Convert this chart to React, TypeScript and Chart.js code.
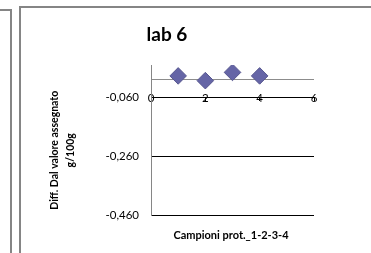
import React, { useEffect, useRef } from "react";
import { Chart, registerables } from "chart.js";

Chart.register(...registerables);

const chartTitle = "lab 6";
const xAxisTitle = "Campioni prot._1-2-3-4";
const yAxisTitle = ["Diff. Dal valore assegnato", "g/100g"];
const samples = [1, 2, 3, 4];
const diffValues = [0.013, -0.003, 0.025, 0.013];
const xTickValues = [0, 2, 4, 6];
const yTickValues = [-0.46, -0.26, -0.06];
const zeroLineValue = 0;
const xRange = [0, 6];
const yRange = [-0.46, 0.05];

const FONT = "Lato";

const axisTitlePlugin = {
  id: "axisTitles",
  afterDraw(chart: any) {
    const { ctx, chartArea } = chart;
    ctx.save();
    ctx.fillStyle = "#000";
    ctx.textAlign = "center";
    ctx.textBaseline = "middle";
    // x axis title
    ctx.font = `bold 11px ${FONT}`;
    ctx.fillText(xAxisTitle, (chartArea.left + chartArea.right) / 2 - 1.5, chartArea.bottom + 20);
    // y axis title (rotated, two lines)
    ctx.font = `bold 10.5px ${FONT}`;
    ctx.translate(34.5, (chartArea.top + chartArea.bottom) / 2 + 10);
    ctx.rotate(-Math.PI / 2);
    ctx.fillText(yAxisTitle[0], 0, 0);
    ctx.fillText(yAxisTitle[1], 0, 16.5);
    ctx.restore();
  },
};

export default function App() {
  const ref = useRef<HTMLCanvasElement>(null);

  useEffect(() => {
    const chart = new Chart(ref.current!, {
      type: "scatter",
      data: {
        datasets: [
          {
            label: chartTitle,
            data: samples.map((x, i) => ({ x, y: diffValues[i] })),
            pointStyle: "rectRot",
            pointRadius: 8.3,
            pointHoverRadius: 8.3,
            backgroundColor: "#6565a6",
            borderColor: "#57578f",
            borderWidth: 1,
            showLine: false,
          },
        ],
      },
      options: {
        animation: false,
        responsive: false,
        devicePixelRatio: 1,
        layout: { padding: { left: 0, top: 0, right: 77, bottom: 37.5 } },
        plugins: {
          legend: { display: false },
          tooltip: { enabled: false },
          title: {
            display: true,
            text: chartTitle,
            color: "#000",
            font: { family: FONT, size: 19, weight: "bold", lineHeight: 1.2 },
            padding: { top: 17.5, bottom: 18.7 },
          },
        },
        scales: {
          x: {
            type: "linear",
            min: xRange[0],
            max: xRange[1],
            position: { y: yTickValues[2] } as any,
            afterBuildTicks: (s: any) => {
              s.ticks = xTickValues.map((v) => ({ value: v }));
            },
            ticks: {
              color: "#000",
              padding: -9.4,
              font: { family: FONT, size: 11.5, lineHeight: 1.2 },
              callback: (v: any) => String(v),
            },
            grid: {
              display: true,
              drawOnChartArea: false,
              drawTicks: true,
              tickLength: 3,
              color: "#000",
            },
            border: { display: true, color: "#000", width: 1 },
          },
          y: {
            type: "linear",
            min: yRange[0],
            max: yRange[1],
            afterBuildTicks: (s: any) => {
              s.ticks = [...yTickValues, zeroLineValue].map((v) => ({ value: v }));
            },
            afterFit: (s: any) => {
              s.width = 131;
            },
            ticks: {
              color: "#000",
              padding: 12,
              font: { family: FONT, size: 11.5 },
              callback: (v: any) =>
                Number(v) === zeroLineValue ? "" : Number(v).toFixed(3).replace(".", ","),
            },
            grid: {
              drawTicks: false,
              color: (c: any) => (c.tick && c.tick.value === zeroLineValue ? "#8c8c8c" : "#000"),
              lineWidth: 1,
            },
            border: { display: true, color: "#868686", width: 1 },
          },
        },
      },
      plugins: [axisTitlePlugin],
    });
    return () => chart.destroy();
  }, []);

  const frame = (s: React.CSSProperties) => (
    <div style={{ position: "absolute", background: "#858585", ...s }} />
  );

  return (
    <div
      style={{
        position: "fixed",
        left: 0,
        top: 0,
        width: 371,
        height: 253,
        overflow: "hidden",
        background: "#fff",
      }}
    >
      {frame({ left: 0, top: 9, width: 12, height: 2 })}
      {frame({ left: 10, top: 9, width: 2, height: 244 })}
      <canvas
        ref={ref}
        width={371}
        height={247}
        style={{ position: "absolute", left: 20, top: 6, width: 371, height: 247 }}
      />
      {frame({ left: 19, top: 6, width: 352, height: 2 })}
      {frame({ left: 19, top: 6, width: 2, height: 247 })}
    </div>
  );
}
